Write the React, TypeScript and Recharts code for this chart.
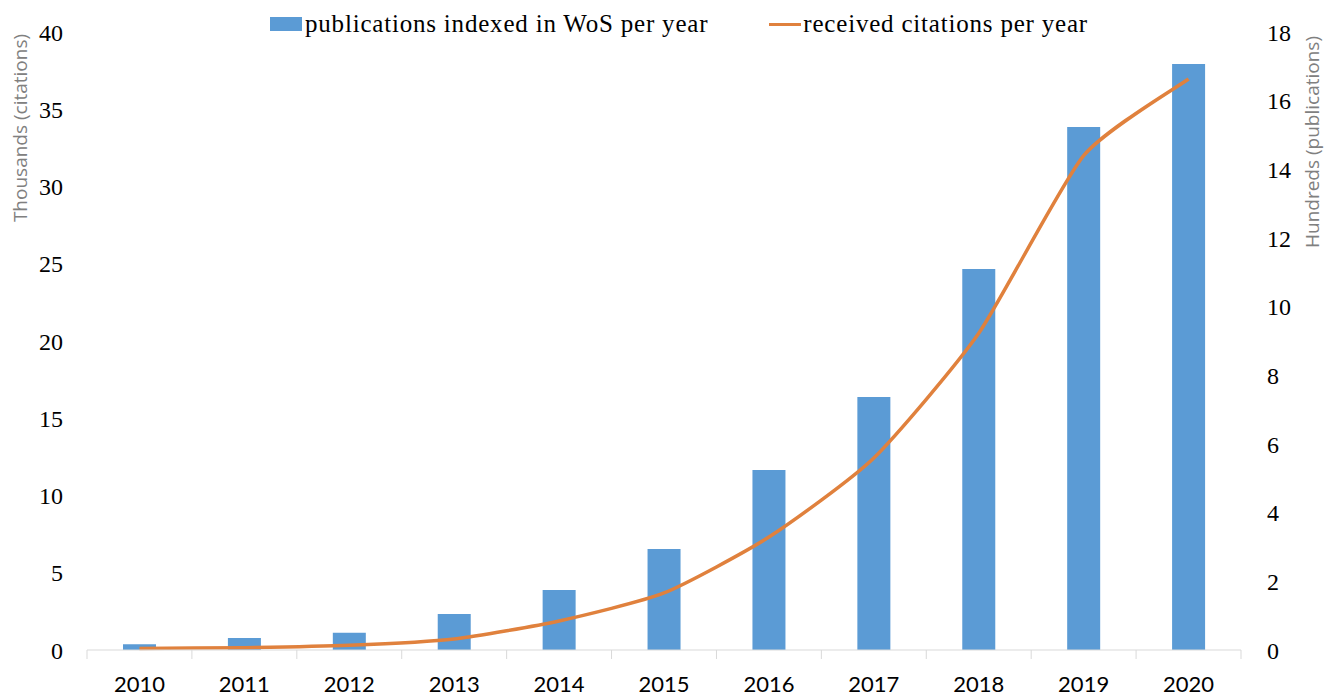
import {
  ComposedChart,
  Bar,
  Line,
  XAxis,
  YAxis,
  Legend,
} from "recharts";

const years = ["2010", "2011", "2012", "2013", "2014", "2015", "2016", "2017", "2018", "2019", "2020"];
// hundreds of publications (right axis)
const publications = [0.17, 0.35, 0.5, 1.05, 1.75, 2.94, 5.24, 7.37, 11.1, 15.23, 17.07];
// thousands of citations (left axis)
const citations = [0.1, 0.15, 0.3, 0.71, 1.88, 3.69, 7.31, 12.43, 20.5, 32.0, 36.96];
const leftTicks = [0, 5, 10, 15, 20, 25, 30, 35, 40];
const rightTicks = [0, 2, 4, 6, 8, 10, 12, 14, 16, 18];

const PUB_NAME = "publications indexed in WoS per year";
const CIT_NAME = "received citations per year";

const chartData = years.map((y, i) => ({
  year: y,
  [PUB_NAME]: publications[i],
  [CIT_NAME]: citations[i],
}));

const SERIF = '"Times New Roman", "Liberation Serif", serif';
const SANS = 'Lato, "Open Sans", sans-serif';
const BAND = 1154 / 11;
const TENSION = 10;

// Excel-style smoothed line (loose Catmull-Rom through the points)
const smoothCurve = (context: any) => {
  let pts: number[][] = [];
  return {
    areaStart() {},
    areaEnd() {},
    lineStart() {
      pts = [];
    },
    point(x: number, y: number) {
      pts.push([+x, +y]);
    },
    lineEnd() {
      if (!pts.length) return;
      context.moveTo(pts[0][0], pts[0][1]);
      for (let i = 0; i < pts.length - 1; i++) {
        const p0 = pts[i - 1] || pts[i];
        const p1 = pts[i];
        const p2 = pts[i + 1];
        const p3 = pts[i + 2] || p2;
        context.bezierCurveTo(
          p1[0] + (p2[0] - p0[0]) / TENSION,
          p1[1] + (p2[1] - p0[1]) / TENSION,
          p2[0] - (p3[0] - p1[0]) / TENSION,
          p2[1] - (p3[1] - p1[1]) / TENSION,
          p2[0],
          p2[1]
        );
      }
    },
  };
};

const YearTick = (props: any) => {
  const { x, y, payload, index } = props;
  const half = payload?.offset || BAND / 2;
  return (
    <g>
      <line x1={x - half} x2={x - half} y1={y} y2={y + 9} stroke="#d9d9d9" />
      {index === years.length - 1 && (
        <line x1={x + half} x2={x + half} y1={y} y2={y + 9} stroke="#d9d9d9" />
      )}
      <text x={x} y={y + 26} dy="0.71em" textAnchor="middle" fill="#000" fontFamily={SANS} fontSize={22}>
        {payload.value}
      </text>
    </g>
  );
};

const AxisTitle = ({ viewBox, value, dx, cy }: any) => {
  const x = viewBox.x + dx;
  const y = viewBox.y + cy;
  return (
    <text
      x={x}
      y={y}
      transform={`rotate(-90, ${x}, ${y})`}
      textAnchor="middle"
      dominantBaseline="central"
      fill="#808080"
      fontFamily={'"Open Sans", sans-serif'}
      fontSize={19}
    >
      {value}
    </text>
  );
};

const LegendContent = ({ payload }: any) => (
  <div
    style={{
      display: "flex",
      alignItems: "center",
      paddingLeft: 270,
      fontFamily: SERIF,
      fontSize: 25,
      letterSpacing: 0.8,
      color: "#000",
    }}
  >
    {(payload || []).map((p: any, i: number) => (
      <div key={p.value} style={{ display: "flex", alignItems: "center", marginLeft: i === 0 ? 0 : 61 }}>
        {p.type === "line" ? (
          <span style={{ display: "inline-block", width: 32, height: 3, background: p.color, marginRight: 2 }} />
        ) : (
          <span style={{ display: "inline-block", width: 32, height: 14, background: p.color, marginRight: 3 }} />
        )}
        <span>{p.value}</span>
      </div>
    ))}
  </div>
);

export default function App() {
  return (
    <div style={{ position: "absolute", left: 0, top: 0, background: "#fff" }}>
      <ComposedChart width={1333} height={696} data={chartData} margin={{ top: 32, right: 0, bottom: 0, left: 0 }}>
        <XAxis
          dataKey="year"
          height={46}
          tickSize={0}
          tickMargin={0}
          tickLine={false}
          axisLine={{ stroke: "#d9d9d9" }}
          tick={<YearTick />}
          interval={0}
        />
        <YAxis
          yAxisId="left"
          orientation="left"
          width={87}
          domain={[0, 40]}
          ticks={leftTicks}
          tickSize={0}
          tickMargin={24}
          axisLine={false}
          tickLine={false}
          tick={{ fill: "#000", fontSize: 24, fontFamily: SERIF }}
          label={<AxisTitle value="Thousands (citations)" dx={20} cy={96} />}
        />
        <YAxis
          yAxisId="right"
          orientation="right"
          width={92}
          domain={[0, 18]}
          ticks={rightTicks}
          tickSize={0}
          tickMargin={26}
          axisLine={false}
          tickLine={false}
          tick={{ fill: "#000", fontSize: 24, fontFamily: SERIF }}
          label={<AxisTitle value="Hundreds (publications)" dx={71} cy={110} />}
        />
        <Legend
          verticalAlign="middle"
          align="center"
          layout="horizontal"
          wrapperStyle={{ top: 10, left: 0, width: 1333 }}
          content={<LegendContent />}
        />
        <Bar
          yAxisId="right"
          dataKey={PUB_NAME}
          fill="#5b9bd5"
          barSize={33}
          isAnimationActive={false}
        />
        <Line
          yAxisId="left"
          type={smoothCurve as any}
          dataKey={CIT_NAME}
          stroke="#e0813d"
          strokeWidth={3.5}
          dot={false}
          activeDot={false}
          isAnimationActive={false}
        />
      </ComposedChart>
    </div>
  );
}
